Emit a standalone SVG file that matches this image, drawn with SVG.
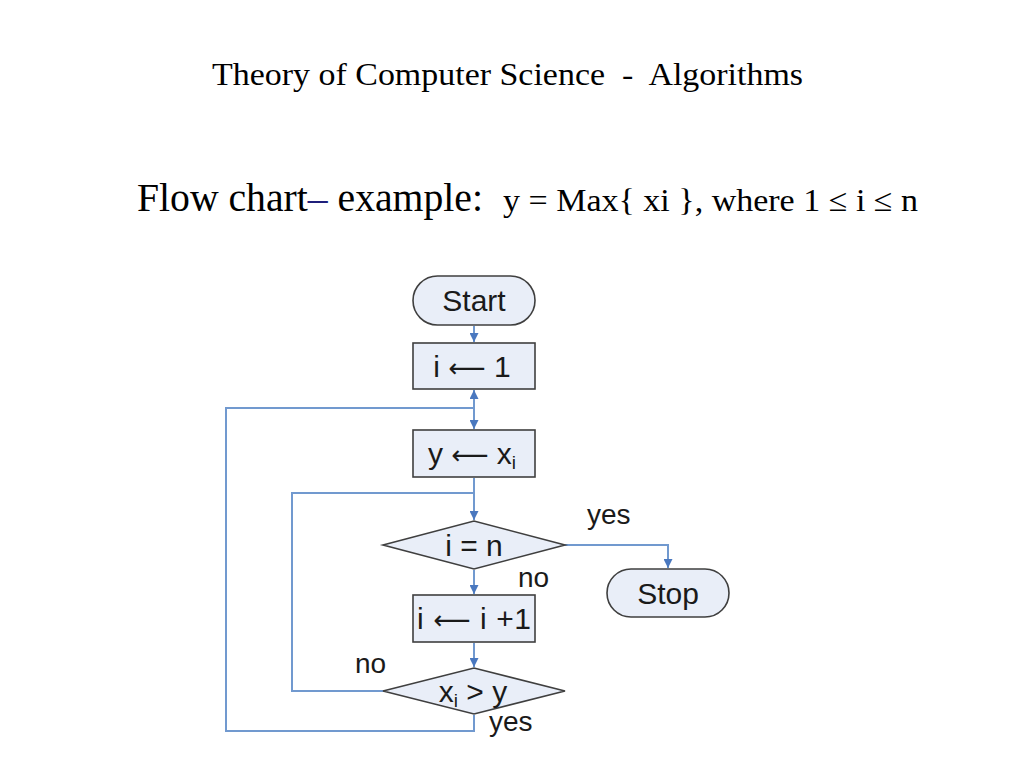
<svg xmlns="http://www.w3.org/2000/svg" width="1024" height="768" viewBox="0 0 1024 768">
<defs>
<style>
.node{fill:#e9eef8;stroke:#3f3f3f;stroke-width:1.6}
.t{font-family:"Liberation Sans",Arial,sans-serif;font-size:30px;fill:#1a1a1a;text-anchor:middle}
.ar{font-family:"DejaVu Sans",sans-serif;font-size:26px}
.lbl{font-family:"Liberation Sans",Arial,sans-serif;font-size:28px;fill:#1a1a1a}
.c{fill:none;stroke:#7199cf;stroke-width:2}
.serif{font-family:"Liberation Serif","Times New Roman",serif;fill:#000;white-space:pre}
</style>
<marker id="ah" viewBox="0 0 10 10" refX="10" refY="5" markerWidth="9" markerHeight="9" orient="auto" markerUnits="userSpaceOnUse">
<path d="M0,0 L10,5 L0,10 z" fill="#4a78bf"/>
</marker>
</defs>
<rect width="1024" height="768" fill="#fff"/>
<text class="serif" x="212" y="85" font-size="32" textLength="591" lengthAdjust="spacingAndGlyphs" xml:space="preserve">Theory of Computer Science  -  Algorithms</text>
<text class="serif" x="137" y="211" font-size="40" textLength="346" lengthAdjust="spacingAndGlyphs" xml:space="preserve">Flow chart<tspan fill="#1f1f7a">–</tspan> example:</text>
<text class="serif" x="503" y="211" font-size="32" textLength="415" lengthAdjust="spacingAndGlyphs" xml:space="preserve">y = Max{ xi }, where 1 ≤ i ≤ n</text>
<g id="connectors">
<line class="c" x1="474" y1="326" x2="474" y2="342" marker-end="url(#ah)"/>
<line class="c" x1="474" y1="410" x2="474" y2="390" marker-end="url(#ah)"/>
<line class="c" x1="474" y1="406" x2="474" y2="429" marker-end="url(#ah)"/>
<polyline class="c" points="474,715 474,731 226,731 226,408 474,408"/>
<line class="c" x1="474" y1="478" x2="474" y2="520" marker-end="url(#ah)"/>
<polyline class="c" points="384,691 292,691 292,493 474,493"/>
<line class="c" x1="474" y1="570" x2="474" y2="594" marker-end="url(#ah)"/>
<line class="c" x1="474" y1="643" x2="474" y2="667" marker-end="url(#ah)"/>
<polyline class="c" points="565,545 668,545 668,568" marker-end="url(#ah)"/>
</g>
<g id="start">
<rect class="node" x="413" y="276" width="122" height="49" rx="24.5"/>
<text class="t" x="474" y="311">Start</text>
</g>
<g id="init">
<rect class="node" x="413" y="343" width="122" height="46"/>
<text class="t" x="472" y="377">i <tspan class="ar">⟵</tspan> 1</text>
</g>
<g id="assign">
<rect class="node" x="413" y="430" width="122" height="47"/>
<text class="t" x="472" y="464">y <tspan class="ar">⟵</tspan> x<tspan font-size="19" dy="5">i</tspan></text>
</g>
<g id="cond1">
<polygon class="node" points="383,545 474,521 565,545 474,569"/>
<text class="t" x="474" y="556">i = n</text>
</g>
<g id="inc">
<rect class="node" x="413" y="595" width="122" height="47"/>
<text class="t" x="474" y="629" textLength="114" lengthAdjust="spacing">i <tspan class="ar">⟵</tspan> i +1</text>
</g>
<g id="cond2">
<polygon class="node" points="383,691 474,668 565,691 474,714"/>
<text class="t" x="473" y="702">x<tspan font-size="19" dy="5">i</tspan><tspan dy="-5"> &gt; y</tspan></text>
</g>
<g id="stop">
<rect class="node" x="607" y="569" width="122" height="48" rx="24"/>
<text class="t" x="668" y="604">Stop</text>
</g>
<g id="labels">
<text class="lbl" x="587" y="524">yes</text>
<text class="lbl" x="518" y="587">no</text>
<text class="lbl" x="355" y="673">no</text>
<text class="lbl" x="489" y="731">yes</text>
</g>
</svg>
